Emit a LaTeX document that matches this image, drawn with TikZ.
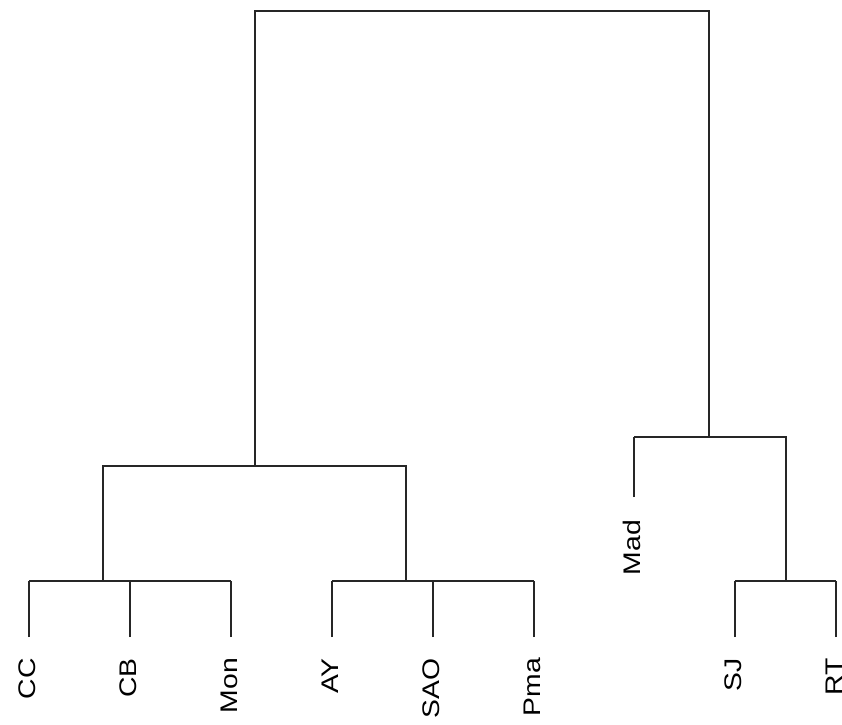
\documentclass[tikz,border=0pt]{standalone}
\usepackage{fontspec}
\setmainfont{Liberation Sans}
\begin{document}
\begin{tikzpicture}[x=1pt,y=-1pt,
  branch/.style={line width=2pt, draw=black!85},
  leaflabel/.style={rotate=90, anchor=east, inner sep=0pt, text height=17pt, text depth=0pt,
    font=\fontsize{24}{24}\selectfont}]
\useasboundingbox[fill=white] (0,0) rectangle (842,724);
\begin{scope}
\clip (0,0) rectangle (842,724);
% leaf ends
\foreach \n/\x in {CC/29,CB/130,Mon/231,AY/332,SAO/433,Pma/534,SJ/735,RT/836}{
  \coordinate (\n) at (\x,637);
  \coordinate (\n-t) at (\x,581);
}
\coordinate (Mad) at (634,497);
\coordinate (Mad-t) at (634,437);
% internal nodes
\coordinate (g1) at (103,581);
\coordinate (g2) at (406,581);
\coordinate (g3) at (786,581);
\coordinate (L) at (255,466);
\coordinate (R) at (709,437);
\coordinate (root) at (482,11);
% labels
\foreach \n in {CC,CB,Mon,AY,SAO,Pma,SJ,RT}{
  \node[leaflabel] (lab\n) at ([xshift=-2pt,yshift=-21pt]\n) {\scalebox{1.18}[1]{\n}};
}
\node[leaflabel] (labMad) at ([xshift=-2pt,yshift=-23pt]Mad) {\scalebox{1.18}[1]{Mad}};
% leaves
\foreach \n in {CC,CB,Mon,AY,SAO,Pma,SJ,RT,Mad}{
  \draw[branch] (\n) -- (\n-t);
}
% cluster bars
\draw[branch] (CC-t) -- (Mon-t);
\draw[branch] (AY-t) -- (Pma-t);
\draw[branch] (SJ-t) -- (RT-t);
\draw[branch] (g1) |- (L) -| (g2);
\draw[branch] (Mad-t) -- (R) -| (g3);
\draw[branch] (L) |- (root) -| (R);
\end{scope}
\end{tikzpicture}
\end{document}
